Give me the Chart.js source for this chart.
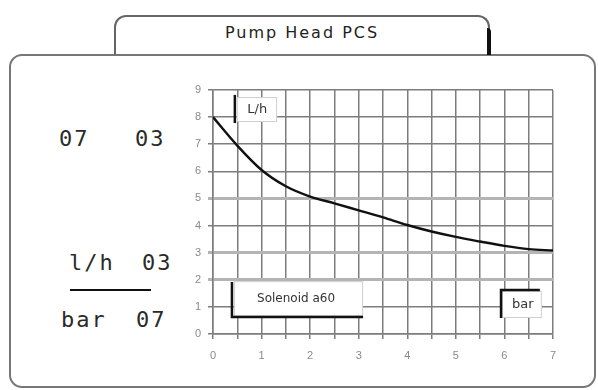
<!DOCTYPE html>
<html><head><meta charset="utf-8">
<script src="https://cdn.jsdelivr.net/npm/chart.js@4/dist/chart.umd.min.js"></script>
<style>
html,body{margin:0;padding:0;background:#fff;width:598px;height:390px;overflow:hidden;}
#wrap{position:relative;width:598px;height:390px;}
.frame{position:absolute;left:9px;top:54px;width:583px;height:330px;border:2px solid #777;border-radius:13px;}
.tab{position:absolute;left:114px;top:15px;width:372px;height:38px;border:2px solid #666;border-bottom:none;border-radius:12px 12px 0 0;}
.tabshadow{position:absolute;left:487px;top:28px;width:4px;height:27px;background:#111;border-top-right-radius:4px;}
.title{position:absolute;left:114px;top:23px;width:376px;text-align:center;font:16px "DejaVu Sans";letter-spacing:2px;color:#222;}
.lcd{position:absolute;font:22px "DejaVu Sans Mono";line-height:22px;letter-spacing:2px;color:#2a2a2a;white-space:pre;}
.rule{position:absolute;left:70px;top:289px;width:81px;height:2px;background:#111;}
canvas{position:absolute;left:0;top:0;}
</style></head>
<body><div id="wrap">
<div class="frame"></div>
<div class="tab"></div><div class="tabshadow"></div>
<div class="title">Pump Head PCS</div>
<div class="lcd" style="left:59px;top:128px">07</div>
<div class="lcd" style="left:135px;top:128px">03</div>
<div class="lcd" style="left:69px;top:252px">l/h</div>
<div class="lcd" style="left:142px;top:252px">03</div>
<div class="lcd" style="left:61px;top:309px">bar</div>
<div class="lcd" style="left:136px;top:309px">07</div>
<div class="rule"></div>
<canvas id="c" width="598" height="390"></canvas>
</div>
<script>
const pressureBar = [0,0.5,1,1.5,2,2.5,3,3.5,4,4.5,5,5.5,6,6.5,7];
const flowLh = [8.0,6.95,6.05,5.45,5.07,4.82,4.56,4.3,4.02,3.78,3.58,3.41,3.25,3.13,3.08];
const xTickLabels = ['0','1','2','3','4','5','6','7'];
const yTickLabels = ['0','1','2','3','4','5','6','7','8','9'];
const boxLabels = ['L/h','Solenoid a60','bar'];

const annot = {
  id:'annot',
  afterDatasetsDraw(chart){
    const {ctx, scales:{x,y}} = chart;
    const px=v=>x.getPixelForValue(v), py=v=>y.getPixelForValue(v);
    function box(x0,x1,y0,y1){
      const l=px(x0), r=px(x1), t=py(y0), b=py(y1);
      ctx.fillStyle='#fff'; ctx.fillRect(l,t,r-l,b-t);
      ctx.strokeStyle='#cfcfcf'; ctx.lineWidth=1; ctx.strokeRect(l+0.5,t+0.5,r-l-1,b-t-1);
    }
    function bar(pts){
      ctx.strokeStyle='#111'; ctx.lineWidth=2.5; ctx.lineCap='butt';
      ctx.beginPath(); ctx.moveTo(px(pts[0][0]),py(pts[0][1]));
      for(let i=1;i<pts.length;i++) ctx.lineTo(px(pts[i][0]),py(pts[i][1]));
      ctx.stroke();
    }
    function text(s,xv,yv,font){
      ctx.fillStyle='#333'; ctx.font=font; ctx.textAlign='center'; ctx.textBaseline='middle';
      ctx.fillText(s,px(xv),py(yv));
    }
    ctx.save();
    box(0.49,1.32,8.74,7.82); bar([[0.45,8.82],[0.45,7.78]]);
    text(boxLabels[0],0.91,8.28,'13px "DejaVu Sans"');
    box(0.43,3.09,1.95,0.66); bar([[0.39,1.92],[0.39,0.63],[3.09,0.63]]);
    text(boxLabels[1],1.71,1.29,'12px "DejaVu Sans"');
    box(5.95,6.77,1.59,0.59); bar([[5.93,0.59],[5.93,1.62],[6.73,1.62]]);
    text(boxLabels[2],6.38,1.07,'13px "DejaVu Sans"');
    ctx.restore();
  }
};

new Chart(document.getElementById('c'), {
  type:'line',
  data:{datasets:[{
    data: pressureBar.map((p,i)=>({x:p,y:flowLh[i]})),
    borderColor:'#111', borderWidth:2.4, pointRadius:0,
    cubicInterpolationMode:'monotone', fill:false
  }]},
  options:{
    responsive:false, animation:false,
    layout:{padding:{left:191,right:45,top:90,bottom:26}},
    plugins:{legend:{display:false},tooltip:{enabled:false}},
    scales:{
      x:{type:'linear',min:0,max:7,
        afterFit(s){s.height=30;},
        ticks:{stepSize:0.5,autoSkip:false,maxRotation:0,padding:10,color:'#8a8a8a',
          font:{family:'"Liberation Sans"',size:11},
          callback:v=>Number.isInteger(v)?xTickLabels[v]:''},
        grid:{color:'#7d7d7d',lineWidth:1.5,tickLength:5},
        border:{color:'#7d7d7d',width:1.5}},
      y:{min:0,max:9,
        afterFit(s){s.width=22;},
        ticks:{stepSize:1,padding:7,color:'#8a8a8a',
          font:{family:'"Liberation Sans"',size:11},
          callback:v=>yTickLabels[v]},
        grid:{color:c=>[2,3,5].includes(c.tick&&c.tick.value)?'#b4b4b4':'#7d7d7d',
              lineWidth:c=>[2,3,5].includes(c.tick&&c.tick.value)?3:1.5,tickLength:5},
        border:{color:'#7d7d7d',width:1.5}}
    }
  },
  plugins:[annot]
});
</script>
</body></html>
